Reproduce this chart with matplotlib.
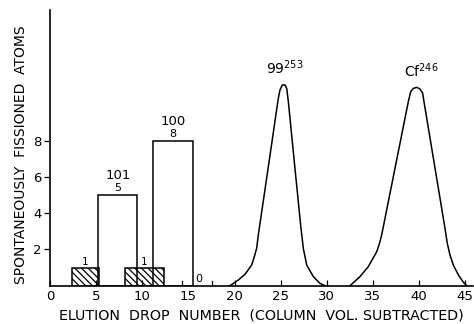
import matplotlib
matplotlib.use("Agg")
import matplotlib.pyplot as plt

# ---- data ----
open_left = [5.22, 11.18]
open_right = [9.45, 15.46]
open_heights = [5, 8]
open_element = ["101", "100"]

hatch_left = [2.40, 8.11]
hatch_right = [5.33, 12.38]
hatch_heights = [1, 1]

event_marks = [14.3, 17.5]
zero_label_x = 16.1

es_x = [19.50, 20.40, 21.13, 21.85, 22.14, 22.39, 22.57, 23.66, 24.74, 24.92, 25.18,
        25.47, 25.65, 25.83, 26.51, 27.20, 27.35, 27.45, 27.82, 28.54, 29.26, 29.80]
es_y = [0.0, 0.31, 0.63, 1.14, 1.60, 2.06, 2.79, 6.56, 10.32, 10.78, 11.06,
        11.06, 10.87, 10.14, 6.65, 3.16, 2.52, 2.06, 1.14, 0.50, 0.13, 0.0]

cf_x = [32.52, 33.60, 34.50, 35.41, 35.70, 35.95, 38.84, 39.10, 39.39, 39.75, 40.11,
        40.40, 40.54, 42.82, 43.07, 43.36, 43.72, 44.27, 44.81, 45.17]
cf_y = [0.0, 0.50, 1.05, 1.87, 2.30, 2.79, 10.14, 10.69, 10.87, 10.93, 10.84,
        10.60, 10.14, 3.16, 2.33, 1.69, 1.14, 0.59, 0.19, 0.0]

x_ticks = [0, 5, 10, 15, 20, 25, 30, 35, 40, 45]
y_ticks = [2, 4, 6, 8]

plt.rcParams['font.family'] = ['DejaVu Sans']
plt.rcParams['hatch.linewidth'] = 0.9
fig = plt.figure(figsize=(4.74, 3.24), dpi=100)
ax = fig.add_axes([50.2 / 474, 1 - 285.7 / 324, (472.5 - 50.2) / 474, 275.7 / 324])
ax.set_xlim(0, (472.5 - 50.2) / 9.22)
ax.set_ylim(0, 275.7 / 18.15)

lw = 1.1
for l, r, h, lab in zip(open_left, open_right, open_heights, open_element):
    ax.bar(l, h, width=r - l, align='edge', facecolor='white', edgecolor='black',
           linewidth=lw, zorder=2)
    ax.text((l + r) / 2, h + 0.08, str(h), ha='center', va='bottom', fontsize=8)
    ax.text((l + r) / 2, h + 0.7, lab, ha='center', va='bottom', fontsize=9.5)

for l, r, h in zip(hatch_left, hatch_right, hatch_heights):
    ax.bar(l, h, width=r - l, align='edge', facecolor='none', edgecolor='black',
           hatch='\\' * 5, linewidth=lw, zorder=3)
    ax.text(l + (r - l) * 0.48, h + 0.05, str(h), ha='center', va='bottom', fontsize=7.5)

for xm in event_marks:
    ax.plot([xm, xm], [0, 0.28], color='black', linewidth=0.9, zorder=3)
ax.text(zero_label_x, 0.08, "0", ha='center', va='bottom', fontsize=8)

ax.plot(es_x, es_y, color='black', linewidth=lw, zorder=3, solid_joinstyle='round')
ax.plot(cf_x, cf_y, color='black', linewidth=lw, zorder=3, solid_joinstyle='round')

ax.text(25.4, 11.5, r"99$^{253}$", ha='center', va='bottom', fontsize=10)
ax.text(40.3, 11.35, r"Cf$^{246}$", ha='center', va='bottom', fontsize=10)

for s in ['top', 'right']:
    ax.spines[s].set_visible(False)
for s in ['left', 'bottom']:
    ax.spines[s].set_linewidth(1.2)

ax.set_xticks(x_ticks)
ax.set_xticklabels([str(t) for t in x_ticks])
ax.set_yticks(y_ticks)
ax.set_yticklabels([str(t) for t in y_ticks])
ax.tick_params(axis='x', direction='in', length=4, width=0.9, labelsize=9.5, pad=3)
ax.tick_params(axis='y', direction='out', length=4, width=0.9, labelsize=9.5, pad=2)

fig.text(261 / 474, 4.5 / 324, "ELUTION  DROP  NUMBER  (COLUMN  VOL. SUBTRACTED)",
         ha='center', va='baseline', fontsize=10.3)
fig.text(21 / 474, 1 - 155 / 324, "SPONTANEOUSLY  FISSIONED  ATOMS",
         ha='center', va='center', rotation=90, fontsize=10)

fig.savefig("out.png", dpi=100)
